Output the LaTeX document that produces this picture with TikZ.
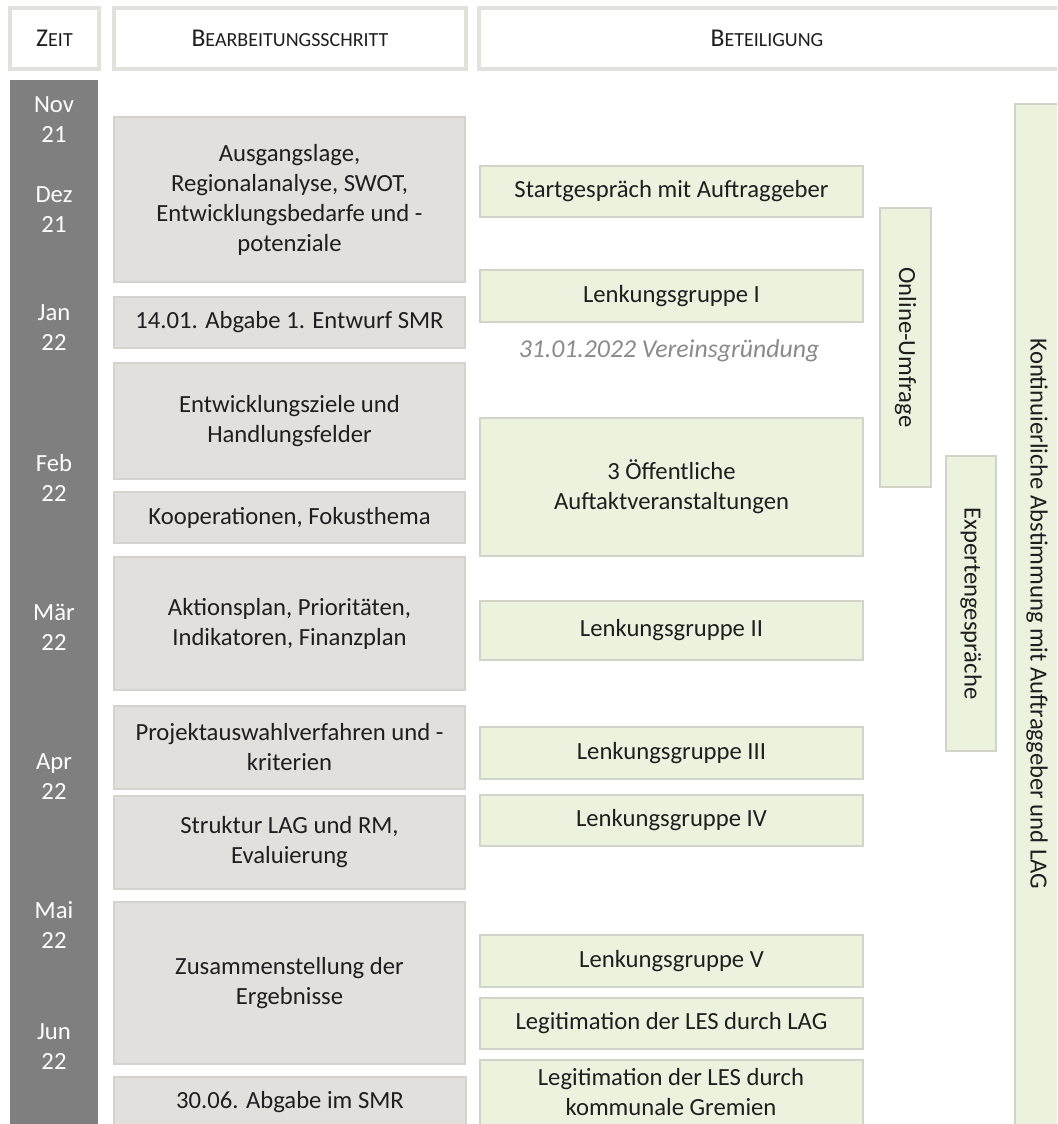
\documentclass[tikz,border=0pt]{standalone}
\usepackage{fontspec}
\setmainfont{Carlito}
\definecolor{darkcol}{HTML}{7F7F7F}
\definecolor{greyfill}{HTML}{E1E0DC}
\definecolor{greyline}{HTML}{D4D3CD}
\definecolor{greenfill}{HTML}{EBF3DF}
\definecolor{greenline}{HTML}{D3D4C8}
\definecolor{headline}{HTML}{E2E2DC}
\definecolor{txtcol}{HTML}{1E1E1E}
\definecolor{italcol}{HTML}{8A8A8A}
\newcommand\scx[2]{{\fontsize{19.2}{22}\selectfont #1}{\fontsize{15}{18}\selectfont #2}}
\tikzset{
  headbox/.style={draw=headline, line width=2.6pt, fill=white},
  greybox/.style={draw=greyline, line width=1.4pt, fill=greyfill},
  greenbox/.style={draw=greenline, line width=1.4pt, fill=greenfill},
  txt/.style={text=txtcol, align=center, inner sep=0pt, font=\fontsize{18.5}{22.5}\selectfont},
  monthtxt/.style={text=white, align=center, inner sep=0pt, font=\fontsize{18.5}{22.5}\selectfont},
}
% #1 style, #2 name, #3 x1, #4 y1, #5 x2, #6 y2, #7 text
\newcommand\bx[7]{\draw[#1] (#3,#4) rectangle (#5,#6);
  \node[txt] (#2) at ({(#3+#5)/2},{(#4+#6)/2}) {#7};}
\newcommand\vbx[7]{\draw[#1] (#3,#4) rectangle (#5,#6);
  \node[txt, rotate=-90] (#2) at ({(#3+#5)/2},{(#4+#6)/2}) {#7};}
\begin{document}
\begin{tikzpicture}[x=0.75pt,y=-0.75pt]
\useasboundingbox (0,0) rectangle (1057,1124);
\clip (0,0) rectangle (1057,1124);
% header
\draw[headbox] (10,8) rectangle (99,69);
\node[txt] (hzeit) at (54.5,38.5) {\scx{Z}{EIT}};
\draw[headbox] (114,8) rectangle (466,69);
\node[txt] (hbearb) at (290,38.5) {\scx{B}{EARBEITUNGSSCHRITT}};
\draw[headbox] (479,8) rectangle (1075,69);
\node[txt] (hbet) at (767,38.5) {\scx{B}{ETEILIGUNG}};
% time column
\fill[darkcol] (10,80) rectangle (98,1130);
\node[monthtxt] (m1) at (54,120) {Nov\\21};
\node[monthtxt] (m2) at (54,210) {Dez\\21};
\node[monthtxt] (m3) at (54,328) {Jan\\22};
\node[monthtxt] (m4) at (54,478) {Feb\\22};
\node[monthtxt] (m5) at (54,627) {Mär\\22};
\node[monthtxt] (m6) at (54,777) {Apr\\22};
\node[monthtxt] (m7) at (54,925) {Mai\\22};
\node[monthtxt] (m8) at (54,1047) {Jun\\22};
% work steps
\bx{greybox}{s1}{114}{117}{465}{282}{Ausgangslage,\\Regionalanalyse, SWOT,\\Entwicklungsbedarfe und -\\potenziale}
\bx{greybox}{s2}{114}{297}{465}{348}{14.01. Abgabe 1. Entwurf SMR}
\bx{greybox}{s3}{114}{363}{465}{479}{Entwicklungsziele und\\Handlungsfelder}
\bx{greybox}{s4}{114}{492}{465}{543}{Kooperationen, Fokusthema}
\bx{greybox}{s5}{114}{557}{465}{690}{Aktionsplan, Prioritäten,\\Indikatoren, Finanzplan}
\bx{greybox}{s6}{114}{706}{465}{789}{Projektauswahlverfahren und -\\kriterien}
\bx{greybox}{s7}{114}{796}{465}{889}{Struktur LAG und RM,\\Evaluierung}
\bx{greybox}{s8}{114}{902}{465}{1064}{Zusammenstellung der\\Ergebnisse}
\draw[greybox] (114,1077) rectangle (466,1135);
\node[txt] (s9) at (290,1102) {30.06. Abgabe im SMR};
% participation
\bx{greenbox}{p1}{480}{166}{863}{217}{Startgespräch mit Auftraggeber}
\bx{greenbox}{p2}{480}{270}{863}{322}{Lenkungsgruppe I}
\node[txt, text=italcol, font=\fontsize{19.3}{22.5}\selectfont\itshape] (p3) at (669,351) {31.01.2022 Vereinsgründung};
\bx{greenbox}{p4}{480}{418}{863}{556}{3 Öffentliche\\Auftaktveranstaltungen}
\bx{greenbox}{p5}{480}{601}{863}{660}{Lenkungsgruppe II}
\bx{greenbox}{p6}{480}{727}{863}{779}{Lenkungsgruppe III}
\bx{greenbox}{p7}{480}{795}{863}{846}{Lenkungsgruppe IV}
\bx{greenbox}{p8}{480}{935}{863}{987}{Lenkungsgruppe V}
\bx{greenbox}{p9}{480}{998}{863}{1049}{Legitimation der LES durch LAG}
\draw[greenbox] (480,1060) rectangle (863,1135);
\node[txt] (p10) at (671,1092) {Legitimation der LES durch\\kommunale Gremien};
% vertical bars
\vbx{greenbox}{v1}{880}{208}{931}{487}{Online-Umfrage}
\vbx{greenbox}{v2}{946}{456}{996}{751}{Expertengespräche}
\draw[greenbox] (1015,104) rectangle (1075,1135);
\node[txt, rotate=-90] (v3) at (1037,614) {Kontinuierliche Abstimmung mit Auftraggeber und LAG};
\end{tikzpicture}
\end{document}
